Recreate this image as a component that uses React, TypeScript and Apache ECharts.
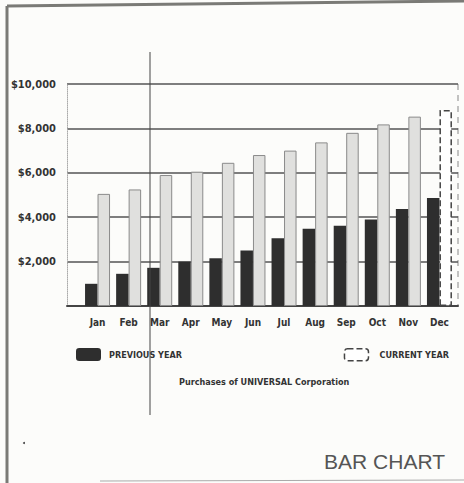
import React, { useEffect, useRef } from "react";
import * as echarts from "echarts";

const months = ["Jan", "Feb", "Mar", "Apr", "May", "Jun", "Jul", "Aug", "Sep", "Oct", "Nov", "Dec"];
const previousYear = [1000, 1450, 1720, 2000, 2150, 2500, 3050, 3480, 3610, 3900, 4370, 4860];
const currentYear = [5050, 5250, 5900, 6050, 6450, 6800, 7000, 7370, 7800, 8180, 8530, 8830];
const yTicks = { min: 0, max: 10000, interval: 2000 };

const COND = "'DejaVu Sans Condensed', 'Liberation Sans Narrow', sans-serif";

export default function App() {
  const ref = useRef<HTMLDivElement>(null);
  useEffect(() => {
    document.body.style.margin = "0";
    const chart = echarts.init(ref.current!, undefined, { renderer: "svg" });
    const curData = currentYear.map((v, i) =>
      i === currentYear.length - 1
        ? { value: v, itemStyle: { color: "#ffffff", borderColor: "#444", borderWidth: 1.5, borderType: "dashed" } }
        : v
    );
    chart.setOption({
      animation: false,
      backgroundColor: "#fcfcfa",
      title: [
        {
          text: "Purchases of UNIVERSAL Corporation",
          left: 174,
          top: 372,
          textStyle: { fontFamily: COND, fontSize: 9, fontWeight: "bold", color: "#333" },
        },
        {
          text: "BAR CHART",
          right: 14,
          top: 446,
          textStyle: { fontFamily: "'Liberation Sans', Arial, sans-serif", fontSize: 21, fontWeight: "normal", color: "#555" },
        },
      ],
      legend: [
        {
          data: ["PREVIOUS YEAR"],
          left: 71,
          top: 343,
          itemWidth: 25,
          itemHeight: 13,
          textStyle: { fontFamily: COND, fontSize: 9, fontWeight: "bold", color: "#333", padding: [0, 0, 0, 3] },
        },
        {
          data: [
            {
              name: "CURRENT YEAR",
              itemStyle: { color: "#ffffff", borderColor: "#444", borderWidth: 1.5, borderType: "dashed" },
            },
          ],
          right: 10,
          top: 343,
          itemWidth: 24,
          itemHeight: 12,
          textStyle: { fontFamily: COND, fontSize: 9, fontWeight: "bold", color: "#333", padding: [0, 0, 0, 6] },
        },
      ],
      grid: [
        { left: 67, right: 6, top: 84, bottom: 177, containLabel: false },
        { left: 82, right: 9, top: 84, bottom: 177, containLabel: false },
      ],
      xAxis: [
        {
          gridIndex: 0,
          type: "category",
          data: months,
          axisLine: { show: true, lineStyle: { color: "#444", width: 2 } },
          axisTick: { show: false },
          axisLabel: { show: false },
          splitLine: { show: false },
        },
        {
          gridIndex: 1,
          type: "category",
          data: months,
          axisLine: { show: false },
          axisTick: { show: false },
          axisLabel: { fontFamily: COND, fontSize: 10, fontWeight: "bold", color: "#333", margin: 11 },
        },
      ],
      yAxis: [
        {
          gridIndex: 0,
          type: "value",
          min: yTicks.min,
          max: yTicks.max,
          interval: yTicks.interval,
          axisLine: { show: true, lineStyle: { color: "#aaa", type: "dotted", width: 1 } },
          axisTick: { show: false },
          axisLabel: {
            fontFamily: COND,
            fontSize: 11,
            fontWeight: "bold",
            color: "#333",
            margin: 11,
            formatter: (v: number) => (v === 0 ? "" : "$" + v.toLocaleString("en-US")),
          },
          splitLine: { show: true, lineStyle: { color: "#555", width: 1.5 } },
        },
        {
          gridIndex: 1,
          type: "value",
          min: yTicks.min,
          max: yTicks.max,
          interval: yTicks.interval,
          show: false,
          splitLine: { show: false },
        },
      ],
      series: [
        {
          name: "PREVIOUS YEAR",
          type: "bar",
          xAxisIndex: 1,
          yAxisIndex: 1,
          data: previousYear,
          barWidth: 12.5,
          barGap: "0%",
          itemStyle: { color: "#2e2e2e" },
        },
        {
          name: "CURRENT YEAR",
          type: "bar",
          xAxisIndex: 1,
          yAxisIndex: 1,
          data: curData,
          barWidth: 12.5,
          itemStyle: { color: "#e0e0de", borderColor: "#8a8a8a", borderWidth: 1 },
        },
      ],
      graphic: [
        { type: "line", shape: { x1: 7, y1: 6, x2: 464, y2: 1 }, style: { stroke: "#7a7a76", lineWidth: 3 } },
        { type: "line", shape: { x1: 7, y1: 6, x2: 7, y2: 483 }, style: { stroke: "#7a7a76", lineWidth: 3 } },
        { type: "line", shape: { x1: 100, y1: 481, x2: 464, y2: 480 }, style: { stroke: "#aaa", lineWidth: 1 } },
        { type: "line", shape: { x1: 458, y1: 84, x2: 458, y2: 306 }, style: { stroke: "#888", lineWidth: 1, lineDash: [6, 5] } },
        { type: "line", shape: { x1: 150, y1: 52, x2: 150, y2: 415 }, style: { stroke: "#444", lineWidth: 1 }, z: 100 },
        { type: "circle", shape: { cx: 24, cy: 443, r: 1 }, style: { fill: "#444" } },
      ],
    });
    return () => chart.dispose();
  }, []);
  return <div ref={ref} style={{ width: 464, height: 483 }} />;
}
